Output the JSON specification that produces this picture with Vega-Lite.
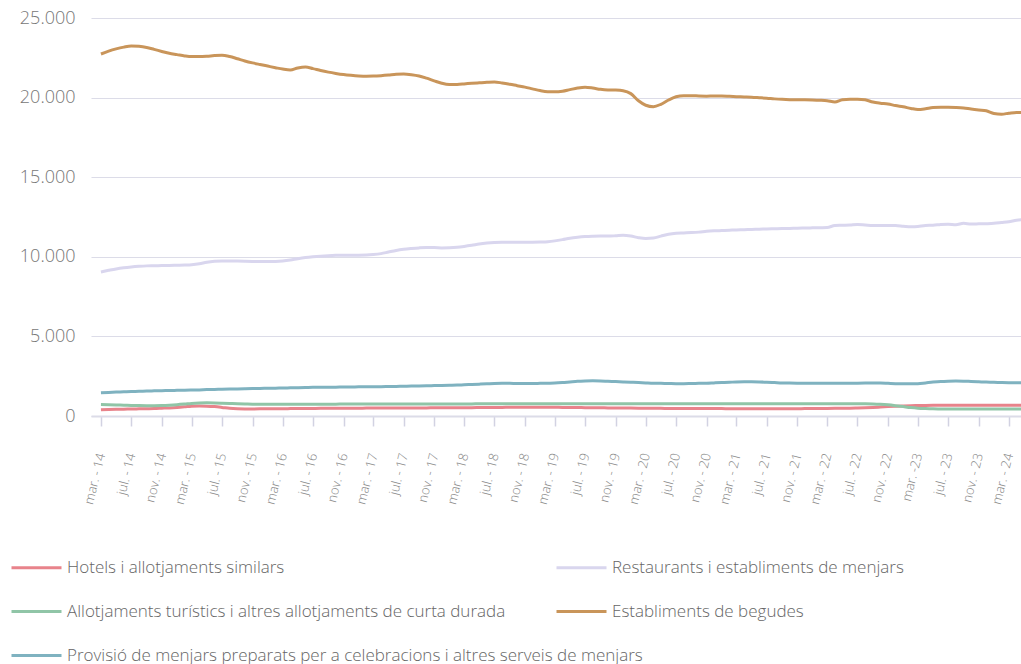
{
"$schema": "https://vega.github.io/schema/vega-lite/v6.json",
"width": 930, "height": 398,
"autosize": {"type": "none"},
"padding": {"left": 91, "top": 18, "right": 0, "bottom": 248},
"config": {"view": {"stroke": null}, "font": "Open Sans", "legend": {"padding": 0}},
"data": {"values": [
{"d":"2014-03-01","h":400,"r":9050,"t":720,"b":22740,"p":1460},
{"d":"2014-04-01","h":410,"r":9150,"t":710,"b":22920,"p":1480},
{"d":"2014-05-01","h":420,"r":9240,"t":695,"b":23060,"p":1500},
{"d":"2014-06-01","h":430,"r":9310,"t":680,"b":23170,"p":1520},
{"d":"2014-07-01","h":440,"r":9360,"t":665,"b":23240,"p":1540},
{"d":"2014-08-01","h":450,"r":9400,"t":655,"b":23220,"p":1550},
{"d":"2014-09-01","h":460,"r":9430,"t":650,"b":23150,"p":1570},
{"d":"2014-10-01","h":470,"r":9440,"t":650,"b":23030,"p":1580},
{"d":"2014-11-01","h":490,"r":9450,"t":660,"b":22900,"p":1590},
{"d":"2014-12-01","h":510,"r":9460,"t":680,"b":22780,"p":1600},
{"d":"2015-01-01","h":540,"r":9470,"t":710,"b":22700,"p":1610},
{"d":"2015-02-01","h":580,"r":9480,"t":750,"b":22620,"p":1620},
{"d":"2015-03-01","h":620,"r":9500,"t":790,"b":22580,"p":1630},
{"d":"2015-04-01","h":630,"r":9560,"t":815,"b":22580,"p":1640},
{"d":"2015-05-01","h":620,"r":9660,"t":825,"b":22600,"p":1660},
{"d":"2015-06-01","h":590,"r":9720,"t":820,"b":22640,"p":1670},
{"d":"2015-07-01","h":540,"r":9740,"t":805,"b":22660,"p":1680},
{"d":"2015-08-01","h":480,"r":9740,"t":785,"b":22580,"p":1690},
{"d":"2015-09-01","h":450,"r":9730,"t":765,"b":22440,"p":1700},
{"d":"2015-10-01","h":440,"r":9720,"t":750,"b":22300,"p":1710},
{"d":"2015-11-01","h":445,"r":9710,"t":740,"b":22180,"p":1720},
{"d":"2015-12-01","h":450,"r":9700,"t":735,"b":22080,"p":1730},
{"d":"2016-01-01","h":455,"r":9700,"t":735,"b":21980,"p":1740},
{"d":"2016-02-01","h":460,"r":9710,"t":735,"b":21880,"p":1750},
{"d":"2016-03-01","h":460,"r":9740,"t":735,"b":21790,"p":1760},
{"d":"2016-04-01","h":465,"r":9800,"t":735,"b":21730,"p":1770},
{"d":"2016-05-01","h":470,"r":9880,"t":740,"b":21860,"p":1780},
{"d":"2016-06-01","h":470,"r":9950,"t":740,"b":21920,"p":1790},
{"d":"2016-07-01","h":475,"r":10000,"t":740,"b":21820,"p":1800},
{"d":"2016-08-01","h":480,"r":10040,"t":745,"b":21700,"p":1800},
{"d":"2016-09-01","h":480,"r":10070,"t":745,"b":21600,"p":1810},
{"d":"2016-10-01","h":485,"r":10090,"t":745,"b":21520,"p":1810},
{"d":"2016-11-01","h":490,"r":10100,"t":750,"b":21450,"p":1820},
{"d":"2016-12-01","h":490,"r":10100,"t":750,"b":21400,"p":1820},
{"d":"2017-01-01","h":490,"r":10100,"t":750,"b":21360,"p":1830},
{"d":"2017-02-01","h":495,"r":10110,"t":750,"b":21340,"p":1830},
{"d":"2017-03-01","h":495,"r":10140,"t":750,"b":21350,"p":1840},
{"d":"2017-04-01","h":500,"r":10200,"t":755,"b":21380,"p":1840},
{"d":"2017-05-01","h":500,"r":10300,"t":755,"b":21420,"p":1850},
{"d":"2017-06-01","h":505,"r":10400,"t":755,"b":21470,"p":1860},
{"d":"2017-07-01","h":505,"r":10470,"t":755,"b":21480,"p":1870},
{"d":"2017-08-01","h":510,"r":10520,"t":755,"b":21440,"p":1880},
{"d":"2017-09-01","h":510,"r":10560,"t":755,"b":21360,"p":1890},
{"d":"2017-10-01","h":510,"r":10580,"t":760,"b":21220,"p":1900},
{"d":"2017-11-01","h":515,"r":10580,"t":760,"b":21050,"p":1910},
{"d":"2017-12-01","h":515,"r":10560,"t":760,"b":20900,"p":1920},
{"d":"2018-01-01","h":520,"r":10570,"t":760,"b":20820,"p":1930},
{"d":"2018-02-01","h":520,"r":10600,"t":760,"b":20830,"p":1940},
{"d":"2018-03-01","h":525,"r":10650,"t":760,"b":20860,"p":1960},
{"d":"2018-04-01","h":525,"r":10720,"t":760,"b":20900,"p":1980},
{"d":"2018-05-01","h":530,"r":10800,"t":765,"b":20930,"p":2000},
{"d":"2018-06-01","h":535,"r":10860,"t":765,"b":20960,"p":2020},
{"d":"2018-07-01","h":540,"r":10900,"t":765,"b":20980,"p":2040},
{"d":"2018-08-01","h":540,"r":10920,"t":765,"b":20920,"p":2050},
{"d":"2018-09-01","h":545,"r":10920,"t":765,"b":20840,"p":2050},
{"d":"2018-10-01","h":545,"r":10920,"t":765,"b":20750,"p":2040},
{"d":"2018-11-01","h":550,"r":10920,"t":765,"b":20660,"p":2040},
{"d":"2018-12-01","h":550,"r":10920,"t":765,"b":20550,"p":2040},
{"d":"2019-01-01","h":550,"r":10930,"t":765,"b":20440,"p":2050},
{"d":"2019-02-01","h":550,"r":10950,"t":765,"b":20370,"p":2060},
{"d":"2019-03-01","h":545,"r":11000,"t":770,"b":20360,"p":2070},
{"d":"2019-04-01","h":540,"r":11080,"t":770,"b":20400,"p":2100},
{"d":"2019-05-01","h":535,"r":11170,"t":770,"b":20500,"p":2140},
{"d":"2019-06-01","h":530,"r":11230,"t":770,"b":20600,"p":2180},
{"d":"2019-07-01","h":525,"r":11270,"t":770,"b":20650,"p":2200},
{"d":"2019-08-01","h":520,"r":11290,"t":770,"b":20600,"p":2210},
{"d":"2019-09-01","h":515,"r":11300,"t":770,"b":20520,"p":2200},
{"d":"2019-10-01","h":510,"r":11300,"t":770,"b":20480,"p":2180},
{"d":"2019-11-01","h":505,"r":11320,"t":770,"b":20470,"p":2160},
{"d":"2019-12-01","h":500,"r":11350,"t":770,"b":20430,"p":2140},
{"d":"2020-01-01","h":495,"r":11300,"t":770,"b":20250,"p":2120},
{"d":"2020-02-01","h":490,"r":11200,"t":770,"b":19800,"p":2100},
{"d":"2020-03-01","h":485,"r":11150,"t":770,"b":19520,"p":2080},
{"d":"2020-04-01","h":480,"r":11180,"t":770,"b":19430,"p":2060},
{"d":"2020-05-01","h":480,"r":11300,"t":770,"b":19580,"p":2050},
{"d":"2020-06-01","h":475,"r":11420,"t":770,"b":19850,"p":2040},
{"d":"2020-07-01","h":475,"r":11480,"t":770,"b":20050,"p":2030},
{"d":"2020-08-01","h":470,"r":11500,"t":770,"b":20120,"p":2030},
{"d":"2020-09-01","h":470,"r":11520,"t":770,"b":20120,"p":2040},
{"d":"2020-10-01","h":470,"r":11550,"t":770,"b":20100,"p":2050},
{"d":"2020-11-01","h":465,"r":11600,"t":770,"b":20090,"p":2060},
{"d":"2020-12-01","h":465,"r":11630,"t":770,"b":20100,"p":2080},
{"d":"2021-01-01","h":465,"r":11650,"t":770,"b":20100,"p":2100},
{"d":"2021-02-01","h":460,"r":11670,"t":770,"b":20080,"p":2120},
{"d":"2021-03-01","h":460,"r":11690,"t":770,"b":20060,"p":2140},
{"d":"2021-04-01","h":460,"r":11700,"t":770,"b":20040,"p":2150},
{"d":"2021-05-01","h":455,"r":11720,"t":770,"b":20020,"p":2150},
{"d":"2021-06-01","h":455,"r":11730,"t":770,"b":19990,"p":2140},
{"d":"2021-07-01","h":455,"r":11750,"t":770,"b":19960,"p":2120},
{"d":"2021-08-01","h":455,"r":11760,"t":770,"b":19920,"p":2100},
{"d":"2021-09-01","h":455,"r":11770,"t":770,"b":19890,"p":2080},
{"d":"2021-10-01","h":460,"r":11780,"t":770,"b":19870,"p":2070},
{"d":"2021-11-01","h":460,"r":11800,"t":770,"b":19860,"p":2060},
{"d":"2021-12-01","h":465,"r":11810,"t":770,"b":19860,"p":2050},
{"d":"2022-01-01","h":465,"r":11820,"t":770,"b":19850,"p":2050},
{"d":"2022-02-01","h":470,"r":11830,"t":770,"b":19830,"p":2050},
{"d":"2022-03-01","h":475,"r":11840,"t":770,"b":19800,"p":2050},
{"d":"2022-04-01","h":480,"r":11960,"t":770,"b":19730,"p":2050},
{"d":"2022-05-01","h":485,"r":11980,"t":770,"b":19870,"p":2050},
{"d":"2022-06-01","h":490,"r":12000,"t":770,"b":19900,"p":2050},
{"d":"2022-07-01","h":500,"r":12030,"t":770,"b":19900,"p":2060},
{"d":"2022-08-01","h":515,"r":12000,"t":765,"b":19860,"p":2070},
{"d":"2022-09-01","h":535,"r":11970,"t":755,"b":19720,"p":2080},
{"d":"2022-10-01","h":560,"r":11960,"t":735,"b":19650,"p":2070},
{"d":"2022-11-01","h":590,"r":11970,"t":700,"b":19600,"p":2050},
{"d":"2022-12-01","h":615,"r":11960,"t":650,"b":19500,"p":2030},
{"d":"2023-01-01","h":635,"r":11920,"t":590,"b":19420,"p":2020},
{"d":"2023-02-01","h":650,"r":11880,"t":530,"b":19320,"p":2020},
{"d":"2023-03-01","h":660,"r":11900,"t":490,"b":19250,"p":2030},
{"d":"2023-04-01","h":665,"r":11970,"t":465,"b":19300,"p":2080},
{"d":"2023-05-01","h":670,"r":11980,"t":450,"b":19380,"p":2130},
{"d":"2023-06-01","h":672,"r":12030,"t":445,"b":19390,"p":2170},
{"d":"2023-07-01","h":674,"r":12050,"t":440,"b":19390,"p":2190},
{"d":"2023-08-01","h":675,"r":12020,"t":440,"b":19380,"p":2200},
{"d":"2023-09-01","h":676,"r":12100,"t":440,"b":19350,"p":2190},
{"d":"2023-10-01","h":677,"r":12060,"t":440,"b":19280,"p":2170},
{"d":"2023-11-01","h":678,"r":12070,"t":440,"b":19220,"p":2150},
{"d":"2023-12-01","h":679,"r":12080,"t":440,"b":19170,"p":2130},
{"d":"2024-01-01","h":680,"r":12100,"t":440,"b":19000,"p":2120},
{"d":"2024-02-01","h":680,"r":12150,"t":440,"b":18960,"p":2100},
{"d":"2024-03-01","h":680,"r":12200,"t":440,"b":19020,"p":2090},
{"d":"2024-04-01","h":680,"r":12300,"t":440,"b":19070,"p":2090},
{"d":"2024-05-01","h":680,"r":12350,"t":440,"b":19060,"p":2090}
]},
"transform": [{"fold": ["h","r","t","b","p"], "as": ["s","v"]}],
"encoding": {
  "x": {"field": "d", "type": "temporal",
    "scale": {"type": "utc", "domain": [{"year":2014,"month":1,"date":20,"utc":true},{"year":2024,"month":4,"date":19,"utc":true}]},
    "axis": {"title": null, "grid": false,
      "values": [
        {"year":2014,"month":3,"date":1,"utc":true},{"year":2014,"month":7,"date":1,"utc":true},{"year":2014,"month":11,"date":1,"utc":true},
        {"year":2015,"month":3,"date":1,"utc":true},{"year":2015,"month":7,"date":1,"utc":true},{"year":2015,"month":11,"date":1,"utc":true},
        {"year":2016,"month":3,"date":1,"utc":true},{"year":2016,"month":7,"date":1,"utc":true},{"year":2016,"month":11,"date":1,"utc":true},
        {"year":2017,"month":3,"date":1,"utc":true},{"year":2017,"month":7,"date":1,"utc":true},{"year":2017,"month":11,"date":1,"utc":true},
        {"year":2018,"month":3,"date":1,"utc":true},{"year":2018,"month":7,"date":1,"utc":true},{"year":2018,"month":11,"date":1,"utc":true},
        {"year":2019,"month":3,"date":1,"utc":true},{"year":2019,"month":7,"date":1,"utc":true},{"year":2019,"month":11,"date":1,"utc":true},
        {"year":2020,"month":3,"date":1,"utc":true},{"year":2020,"month":7,"date":1,"utc":true},{"year":2020,"month":11,"date":1,"utc":true},
        {"year":2021,"month":3,"date":1,"utc":true},{"year":2021,"month":7,"date":1,"utc":true},{"year":2021,"month":11,"date":1,"utc":true},
        {"year":2022,"month":3,"date":1,"utc":true},{"year":2022,"month":7,"date":1,"utc":true},{"year":2022,"month":11,"date":1,"utc":true},
        {"year":2023,"month":3,"date":1,"utc":true},{"year":2023,"month":7,"date":1,"utc":true},{"year":2023,"month":11,"date":1,"utc":true},
        {"year":2024,"month":3,"date":1,"utc":true}
      ],
      "labelExpr": "(utcmonth(datum.value)==2 ? 'mar.' : utcmonth(datum.value)==6 ? 'jul.' : 'nov.') + ((utcyear(datum.value)==2023 && utcmonth(datum.value)==2) ? ' -' : ' - ') + utcFormat(datum.value, '%y')",
      "labelAngle": -76, "labelAlign": "right", "labelBaseline": "middle",
      "labelFontSize": 13, "labelFontWeight": 300, "labelColor": "#888888",
      "labelPadding": 27, "labelOverlap": false, "labelFlush": false, "labelBound": false,
      "tickColor": "#d2d2e2", "tickSize": 10, "tickWidth": 1.5,
      "domainColor": "#dcdce8", "domainWidth": 2}
  },
  "y": {"field": "v", "type": "quantitative",
    "scale": {"domain": [0, 25000], "nice": false},
    "axis": {"title": null, "values": [0,5000,10000,15000,20000,25000],
      "labelExpr": "replace(format(datum.value, ','), ',', '.')",
      "labelFontSize": 18, "labelFontWeight": 300, "labelColor": "#777777", "labelPadding": 16,
      "ticks": false, "domain": false, "gridColor": "#dcdce8", "gridWidth": 1.2}
  }
},
"layer": [
  {
    "transform": [{"filter": "datum.s != 'p'"}],
    "mark": {"type": "line", "interpolate": "monotone", "strokeWidth": 3, "clip": true},
    "encoding": {
      "color": {"field": "s", "type": "nominal",
        "scale": {"domain": ["h","r","t","b"], "range": ["#e8838b","#d9d6ee","#90c5a7","#c9955a"]},
        "legend": {"title": null, "orient": "none", "legendX": -81, "legendY": 523,
          "direction": "horizontal", "columns": 2, "columnPadding": 44, "rowPadding": 9,
          "symbolType": "stroke", "symbolSize": 2500, "symbolStrokeWidth": 3,
          "labelFontSize": 17, "labelFontWeight": 300, "labelColor": "#666666", "labelLimit": 800, "labelOffset": 4,
          "labelExpr": "datum.value=='h' ? 'Hotels i allotjaments similars' : datum.value=='r' ? 'Restaurants i establiments de menjars' : datum.value=='t' ? 'Allotjaments turístics i altres allotjaments de curta durada' : 'Establiments de begudes'"}
      }
    }
  },
  {
    "transform": [{"filter": "datum.s == 'p'"}],
    "mark": {"type": "line", "interpolate": "monotone", "strokeWidth": 3, "clip": true},
    "encoding": {
      "color": {"field": "s", "type": "nominal",
        "scale": {"domain": ["p"], "range": ["#7fb2c0"]},
        "legend": {"title": null, "orient": "none", "legendX": -81, "legendY": 611,
          "symbolType": "stroke", "symbolSize": 2500, "symbolStrokeWidth": 3,
          "labelFontSize": 17, "labelFontWeight": 300, "labelColor": "#666666", "labelLimit": 800, "labelOffset": 4,
          "labelExpr": "'Provisió de menjars preparats per a celebracions i altres serveis de menjars'"}
      }
    }
  }
],
"resolve": {"scale": {"color": "independent"}, "legend": {"color": "independent"}}
}
